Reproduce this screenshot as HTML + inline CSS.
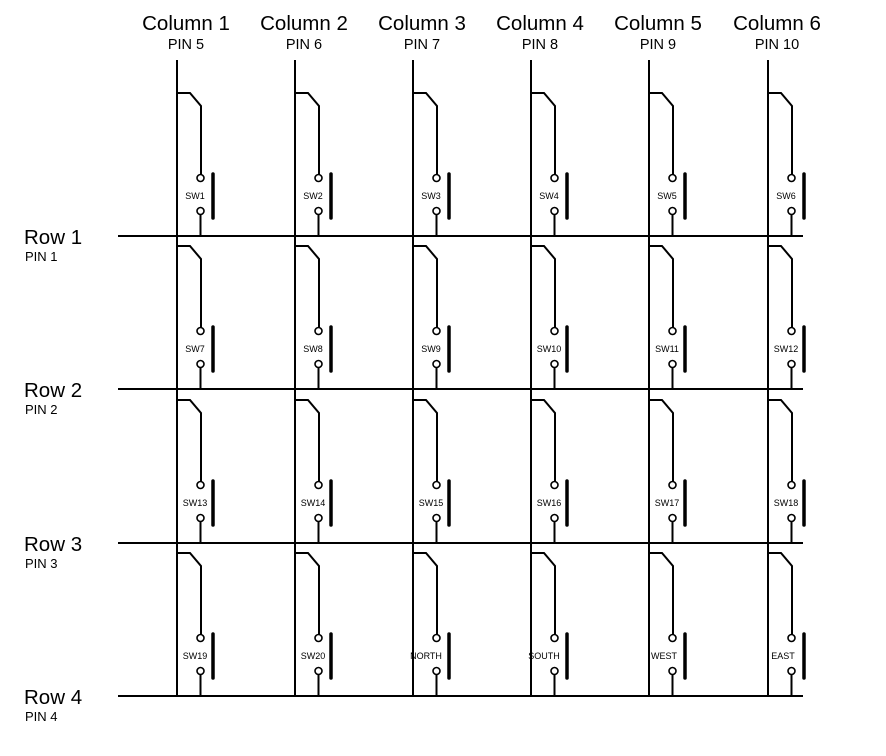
<!DOCTYPE html>
<html><head><meta charset="utf-8"><style>
html,body{margin:0;padding:0;background:#fff;}
svg{display:block;font-family:"Liberation Sans",Arial,sans-serif;}
</style></head><body>
<svg width="886" height="756" viewBox="0 0 886 756" xmlns="http://www.w3.org/2000/svg">
<defs>
<g id="sw" fill="none" stroke="#000" stroke-width="2">
<path d="M0,-143 H13 L24,-130 V-61.5"/>
<circle cx="23.5" cy="-58" r="3.5" stroke-width="1.6"/>
<circle cx="23.5" cy="-25" r="3.5" stroke-width="1.6"/>
<line x1="23.5" y1="-21.5" x2="23.5" y2="0"/>
<line x1="36" y1="-62" x2="36" y2="-18" stroke-width="3.5" stroke-linecap="round"/>
</g>
</defs>
<g stroke="#000" stroke-width="2">
<line x1="177" y1="60" x2="177" y2="697"/>
<line x1="295" y1="60" x2="295" y2="697"/>
<line x1="413" y1="60" x2="413" y2="697"/>
<line x1="531" y1="60" x2="531" y2="697"/>
<line x1="649" y1="60" x2="649" y2="697"/>
<line x1="768" y1="60" x2="768" y2="697"/>
<line x1="118" y1="236" x2="803" y2="236"/>
<line x1="118" y1="389" x2="803" y2="389"/>
<line x1="118" y1="543" x2="803" y2="543"/>
<line x1="118" y1="696" x2="803" y2="696"/>
</g>
<use href="#sw" x="177" y="236"/><use href="#sw" x="295" y="236"/><use href="#sw" x="413" y="236"/><use href="#sw" x="531" y="236"/><use href="#sw" x="649" y="236"/><use href="#sw" x="768" y="236"/>
<use href="#sw" x="177" y="389"/><use href="#sw" x="295" y="389"/><use href="#sw" x="413" y="389"/><use href="#sw" x="531" y="389"/><use href="#sw" x="649" y="389"/><use href="#sw" x="768" y="389"/>
<use href="#sw" x="177" y="543"/><use href="#sw" x="295" y="543"/><use href="#sw" x="413" y="543"/><use href="#sw" x="531" y="543"/><use href="#sw" x="649" y="543"/><use href="#sw" x="768" y="543"/>
<use href="#sw" x="177" y="696"/><use href="#sw" x="295" y="696"/><use href="#sw" x="413" y="696"/><use href="#sw" x="531" y="696"/><use href="#sw" x="649" y="696"/><use href="#sw" x="768" y="696"/>
<g font-size="20.5" text-anchor="middle" fill="#000">
<text x="186" y="30">Column 1</text><text x="304" y="30">Column 2</text><text x="422" y="30">Column 3</text><text x="540" y="30">Column 4</text><text x="658" y="30">Column 5</text><text x="777" y="30">Column 6</text>
</g>
<g font-size="14.5" text-anchor="middle" fill="#000">
<text x="186" y="49">PIN 5</text><text x="304" y="49">PIN 6</text><text x="422" y="49">PIN 7</text><text x="540" y="49">PIN 8</text><text x="658" y="49">PIN 9</text><text x="777" y="49">PIN 10</text>
</g>
<g font-size="20.5" fill="#000">
<text x="24" y="244">Row 1</text><text x="24" y="397">Row 2</text><text x="24" y="551">Row 3</text><text x="24" y="704">Row 4</text>
</g>
<g font-size="13" fill="#000">
<text x="25" y="261">PIN 1</text><text x="25" y="414">PIN 2</text><text x="25" y="568">PIN 3</text><text x="25" y="721">PIN 4</text>
</g>
<g font-size="9" text-anchor="middle" fill="#000">
<text x="195" y="199">SW1</text><text x="313" y="199">SW2</text><text x="431" y="199">SW3</text><text x="549" y="199">SW4</text><text x="667" y="199">SW5</text><text x="786" y="199">SW6</text>
<text x="195" y="352">SW7</text><text x="313" y="352">SW8</text><text x="431" y="352">SW9</text><text x="549" y="352">SW10</text><text x="667" y="352">SW11</text><text x="786" y="352">SW12</text>
<text x="195" y="506">SW13</text><text x="313" y="506">SW14</text><text x="431" y="506">SW15</text><text x="549" y="506">SW16</text><text x="667" y="506">SW17</text><text x="786" y="506">SW18</text>
<text x="195" y="659">SW19</text><text x="313" y="659">SW20</text><text x="426" y="659">NORTH</text><text x="544" y="659">SOUTH</text><text x="664" y="659">WEST</text><text x="783" y="659">EAST</text>
</g>
</svg>
</body></html>
